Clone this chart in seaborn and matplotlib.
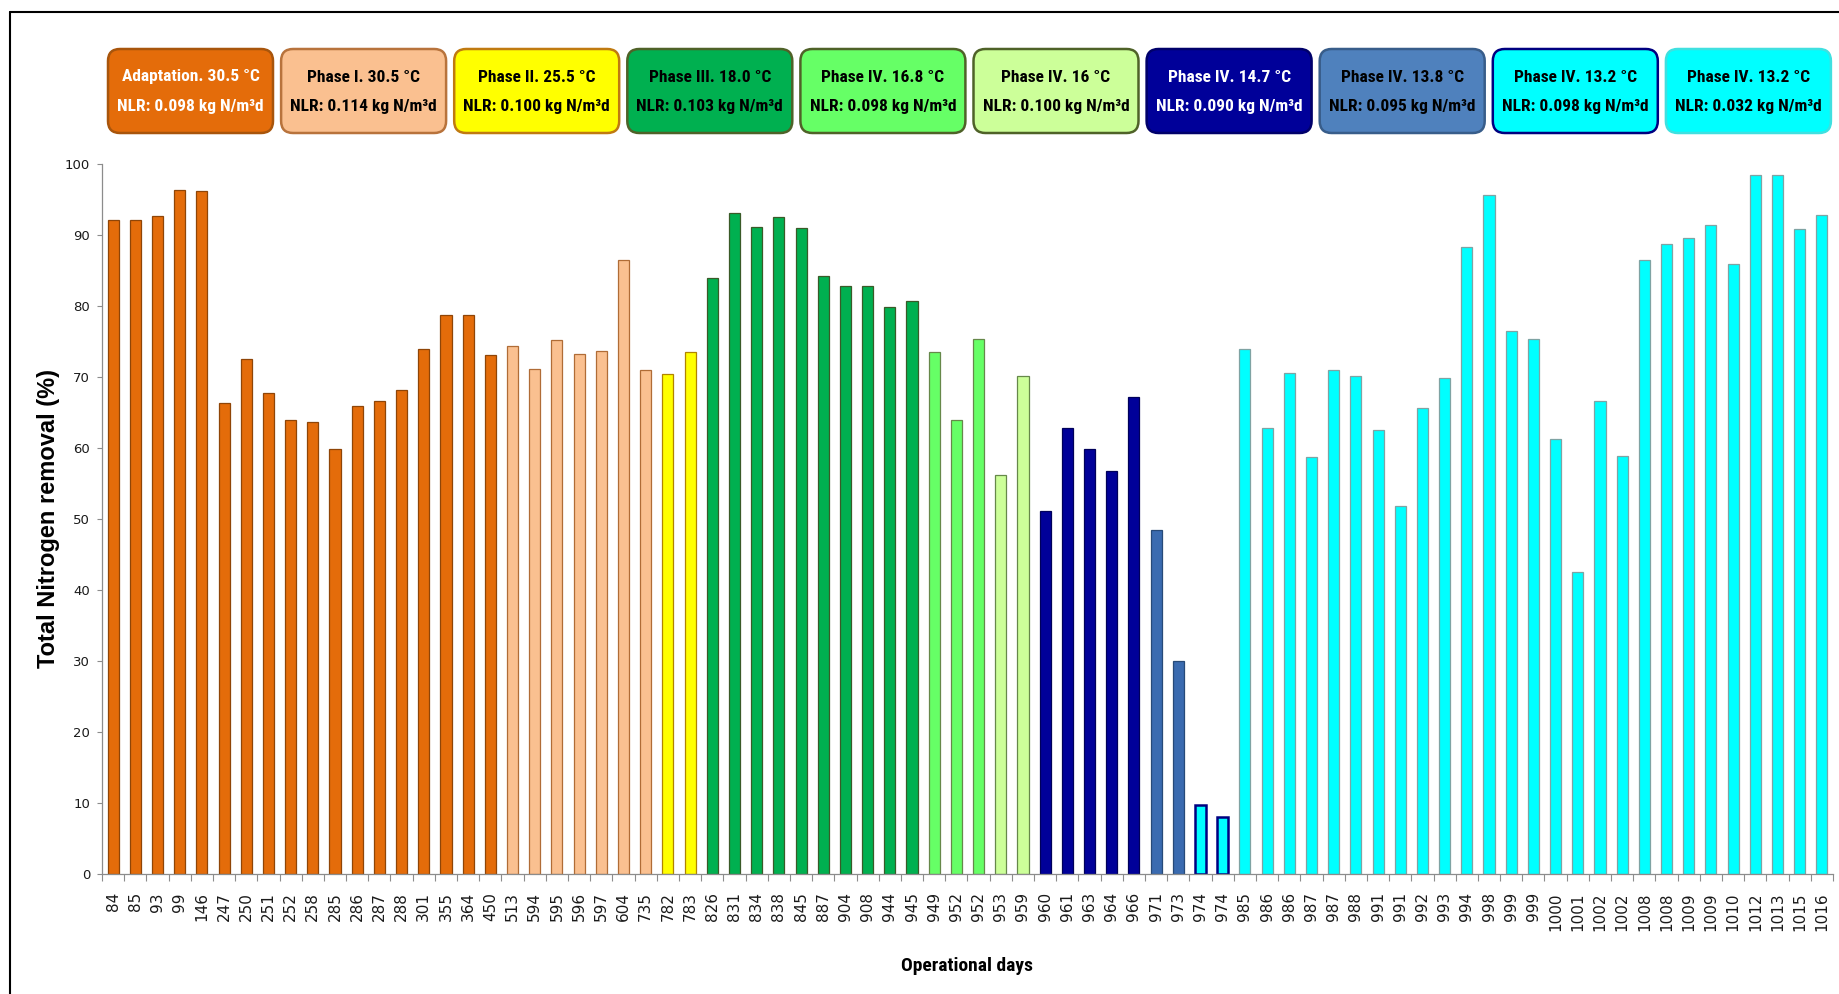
import numpy as np
import pandas as pd
import matplotlib
matplotlib.use("Agg")
import matplotlib.pyplot as plt
import seaborn as sns
from matplotlib.patches import FancyBboxPatch
from matplotlib.lines import Line2D
from matplotlib import font_manager as fm

# ---------------- data ----------------
days = ["84", "85", "93", "99", "146", "247", "250", "251", "252", "258", "285", "286",
        "287", "288", "301", "355", "364", "450",
        "513", "594", "595", "596", "597", "604", "735",
        "782", "783",
        "826", "831", "834", "838", "845", "887", "904", "908", "944", "945",
        "949", "952", "952",
        "953", "959",
        "960", "961", "963", "964", "966",
        "971", "973",
        "974", "974",
        "985", "986", "986", "987", "987", "988", "991", "991", "992", "993", "994",
        "998", "999", "999", "1000", "1001", "1002", "1002", "1008", "1008", "1009",
        "1009", "1010", "1012", "1013", "1015", "1016"]

removal = [92.1, 92.1, 92.7, 96.4, 96.2, 66.4, 72.6, 67.8, 63.9, 63.6, 59.8, 65.9,
           66.6, 68.1, 74.0, 78.7, 78.7, 73.1,
           74.4, 71.1, 75.2, 73.3, 73.6, 86.5, 71.0,
           70.4, 73.5,
           84.0, 93.1, 91.1, 92.6, 91.0, 84.2, 82.8, 82.8, 79.8, 80.7,
           73.5, 64.0, 75.4,
           56.2, 70.2,
           51.1, 62.8, 59.8, 56.8, 67.2,
           48.5, 30.0,
           9.7, 8.0,
           74.0, 62.8, 70.5, 58.7, 71.0, 70.1, 62.6, 51.8, 65.7, 69.9, 88.3,
           95.6, 76.5, 75.4, 61.3, 42.6, 66.6, 58.9, 86.5, 88.7, 89.6,
           91.4, 85.9, 98.4, 98.4, 90.9, 92.8]

phase_titles = ["Adaptation. 30.5 °C", "Phase I. 30.5 °C", "Phase II. 25.5 °C",
                "Phase III. 18.0 °C", "Phase IV. 16.8 °C", "Phase IV. 16 °C",
                "Phase IV. 14.7 °C", "Phase IV. 13.8 °C", "Phase IV. 13.2 °C",
                "Phase IV. 13.2 °C"]
phase_nlr = ["0.098", "0.114", "0.100", "0.103", "0.098", "0.100", "0.090",
             "0.095", "0.098", "0.032"]
phase_counts = [18, 7, 2, 10, 3, 2, 5, 2, 2, 27]

bar_fill = ["#E46C0A", "#FAC090", "#FFFF00", "#00B050", "#66FF66", "#CCFF99",
            "#000099", "#3A6BB0", "#00FFFF", "#00FFFF"]
bar_edge = ["#8F4507", "#B06C36", "#B08400", "#3A5A28", "#66884A", "#66884A",
            "#00005A", "#274A78", "#000080", "#7FA3A3"]
bar_lw = [0.9, 0.9, 0.9, 0.9, 0.9, 0.9, 0.9, 0.9, 1.8, 0.9]

box_fill = ["#E46C0A", "#FAC090", "#FFFF00", "#00B050", "#66FF66", "#CCFF99",
            "#000099", "#4F81BD", "#00FFFF", "#00FFFF"]
box_edge = ["#A8550C", "#B8733C", "#C07A10", "#4F6228", "#4F6228", "#4F6228",
            "#00006A", "#385D8A", "#000080", "#3FE0E0"]
box_text = ["white", "black", "black", "black", "black", "black",
            "white", "black", "black", "black"]

phase_keys = [f"{t}\nNLR: {n} kg N/m³d" for t, n in zip(phase_titles, phase_nlr)]
bar_phase = []
for k, c in zip(phase_keys, phase_counts):
    bar_phase += [k] * c

df = pd.DataFrame({"idx": np.arange(len(days)), "removal": removal, "phase": bar_phase})

# ---------------- fonts ----------------
installed = {f.name for f in fm.fontManager.ttflist}
if "Roboto Condensed" in installed:
    narrow, box_fs, xlab_fs = ["Roboto Condensed", "DejaVu Sans"], 12.5, 14
elif "Liberation Sans" in installed:
    narrow, box_fs, xlab_fs = ["Liberation Sans", "DejaVu Sans"], 10.6, 12.5
else:
    narrow, box_fs, xlab_fs = ["DejaVu Sans"], 9.2, 11.5
ylab_family = ["Liberation Sans", "DejaVu Sans"] if "Liberation Sans" in installed else ["DejaVu Sans"]
ylab_fs = 17 if "Liberation Sans" in installed else 15.5

# ---------------- figure ----------------
sns.set_theme(style="ticks")
plt.rcParams["font.family"] = ["DejaVu Sans"]
plt.rcParams["text.color"] = "black"
plt.rcParams["axes.labelcolor"] = "black"
plt.rcParams["xtick.labelcolor"] = "#1A1A1A"
plt.rcParams["ytick.labelcolor"] = "#1A1A1A"

W, H = 1840, 994
fig = plt.figure(figsize=(W / 100, H / 100), dpi=100)
fig.patch.set_facecolor("white")

ax = fig.add_axes([102 / W, 120 / H, 1731 / W, 710 / H])
sns.barplot(data=df, x="idx", y="removal", hue="phase", hue_order=phase_keys,
            palette=dict(zip(phase_keys, bar_fill)), dodge=False, width=0.5,
            legend=False, saturation=1, ax=ax)

edge_map = dict(zip(phase_keys, bar_edge))
lw_map = dict(zip(phase_keys, bar_lw))
for p in ax.patches:
    i = int(round(p.get_x() + p.get_width() / 2))
    if 0 <= i < len(bar_phase):
        p.set_edgecolor(edge_map[bar_phase[i]])
        p.set_linewidth(lw_map[bar_phase[i]])

ax.set_xlim(-0.5, len(days) - 0.5)
ax.set_ylim(0, 100)
ax.set_yticks(np.arange(0, 101, 10))
ax.set_xticks(np.arange(len(days)))
ax.set_xticklabels(days, rotation=90, fontsize=11)
ax.set_xticks(np.arange(-0.5, len(days), 1), minor=True)
ax.tick_params(axis="x", which="major", length=0, pad=13)
ax.tick_params(axis="x", which="minor", length=5, color="#8C8C8C", width=0.8)
ax.tick_params(axis="y", length=3.6, color="#8C8C8C", width=0.8, labelsize=9.5, pad=5)
for s in ["top", "right"]:
    ax.spines[s].set_visible(False)
for s in ["left", "bottom"]:
    ax.spines[s].set_color("#8C8C8C")
    ax.spines[s].set_linewidth(0.9)

ax.set_ylabel("Total Nitrogen removal (%)", fontsize=ylab_fs, fontweight="bold",
              family=ylab_family, color="black")
ax.yaxis.set_label_coords(-0.024, 0.5)
ax.set_xlabel("Operational days", fontsize=xlab_fs, fontweight="bold", family=narrow,
              color="black")
ax.xaxis.set_label_coords(0.5, -0.117)

# ---------------- overlay: phase boxes and frame ----------------
ov = fig.add_axes([0, 0, 1, 1], zorder=-1)
ov.set_xlim(0, W)
ov.set_ylim(H, 0)
ov.axis("off")

box_w, box_top, box_h = 165, 49, 84
for j in range(len(phase_keys)):
    left = 108 + j * 173.1
    ov.add_patch(FancyBboxPatch((left, box_top), box_w, box_h,
                                boxstyle="round,pad=0,rounding_size=12",
                                facecolor=box_fill[j], edgecolor=box_edge[j], linewidth=1.8))
    cx = left + box_w / 2
    ov.text(cx, 77, phase_titles[j], ha="center", va="center", fontsize=box_fs,
            fontweight="bold", color=box_text[j], family=narrow)
    ov.text(cx, 106, f"NLR: {phase_nlr[j]} kg N/m³d", ha="center", va="center",
            fontsize=box_fs, fontweight="bold", color=box_text[j], family=narrow)

ov.add_line(Line2D([10, 10], [12, H], color="black", linewidth=1.5))
ov.add_line(Line2D([10, W], [12, 12], color="black", linewidth=1.5))

fig.savefig("out.png", dpi=100)
